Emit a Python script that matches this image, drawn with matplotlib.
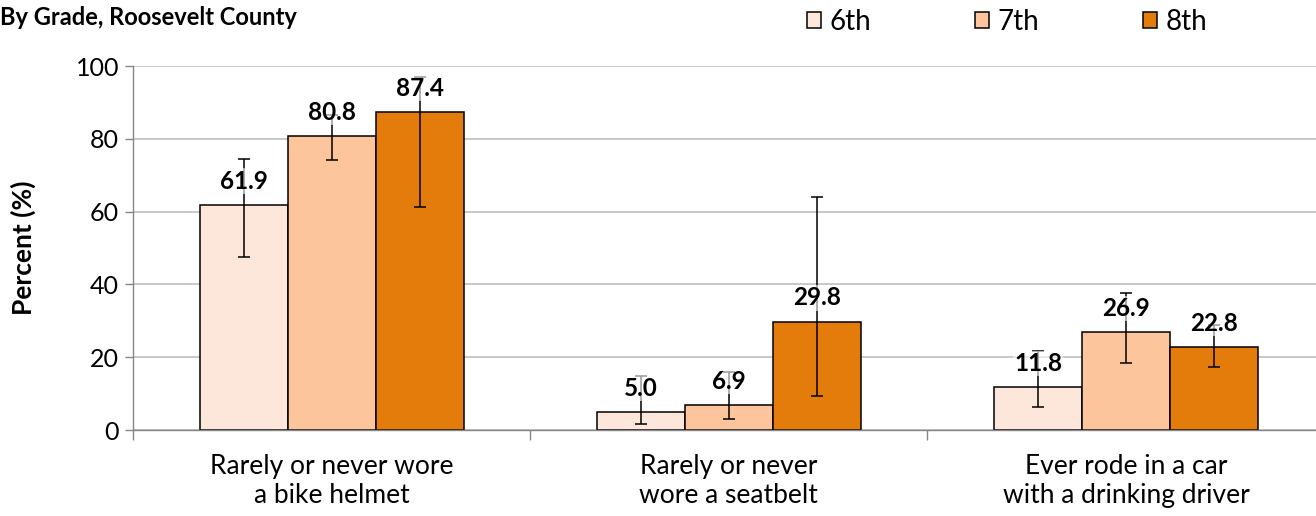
import matplotlib
matplotlib.use("Agg")
import matplotlib.pyplot as plt
import numpy as np

plt.rcParams['font.family'] = ['Lato', 'DejaVu Sans']

categories = ["Rarely or never wore\na bike helmet",
              "Rarely or never\nwore a seatbelt",
              "Ever rode in a car\nwith a drinking driver"]
grades = ["6th", "7th", "8th"]
values = {
    "6th": [61.9, 5.0, 11.8],
    "7th": [80.8, 6.9, 26.9],
    "8th": [87.4, 29.8, 22.8],
}
ci_low = {
    "6th": [47.6, 1.7, 6.2],
    "7th": [74.3, 3.0, 18.3],
    "8th": [61.2, 9.3, 17.4],
}
ci_high = {
    "6th": [74.5, 14.9, 21.8],
    "7th": [86.5, 15.9, 37.7],
    "8th": [96.9, 64.0, 28.8],
}
colors = {"6th": "#FDE7DA", "7th": "#FCC59B", "8th": "#E37C0B"}
yticks = [0, 20, 40, 60, 80, 100]

fig = plt.figure(figsize=(13.16, 5.16), dpi=100)
ax = fig.add_axes([133/1316, 86/516, (1324.5-133)/1316, 364/516])

x = np.arange(len(categories))
width = 0.2215
for i, g in enumerate(grades):
    pos = x + (i - 1) * width
    v = np.array(values[g])
    lo = v - np.array(ci_low[g])
    hi = np.array(ci_high[g]) - v
    ax.bar(pos, v, width, color=colors[g], edgecolor="black", linewidth=1.1,
           label=g, zorder=2)
    ax.errorbar(pos, v, yerr=[lo, hi], fmt="none", ecolor="black",
                elinewidth=1.1, capsize=4, capthick=1.1, zorder=3)
    for xp, val in zip(pos, v):
        ax.annotate(f"{val:.1f}", (xp, val), xytext=(0, 17),
                    textcoords="offset points", ha="center", va="center",
                    fontsize=17.5, fontweight="bold", zorder=4,
                    bbox=dict(boxstyle="square,pad=0.05", facecolor="white",
                              edgecolor="none", alpha=0.6))

ax.set_xlim(-0.5, 2.5)
ax.set_ylim(0, 100)
ax.set_yticks(yticks)
ax.tick_params(axis="y", labelsize=18, length=6, color="#868686", width=1, pad=4)
ax.yaxis.grid(True, color="#BFBFBF", linewidth=1.2, zorder=0)
ax.set_axisbelow(True)

ax.set_xticks(x)
ax.set_xticklabels(categories, fontsize=19, linespacing=1.2)
ax.tick_params(axis="x", which="major", length=0, pad=17)
ax.set_xticks([-0.5, 0.5, 1.5, 2.5], minor=True)
ax.tick_params(axis="x", which="minor", length=7, color="#868686", width=1)

for s in ["top", "right"]:
    ax.spines[s].set_visible(False)
for s in ["left", "bottom"]:
    ax.spines[s].set_color("#868686")
    ax.spines[s].set_linewidth(1)

ax.set_ylabel("Percent (%)", fontsize=19, fontweight="bold")
ax.yaxis.set_label_coords((36 - 133) / 1191.5, 0.5)

fig.text(0.0, 1 - 17/516, "By Grade, Roosevelt County", fontsize=17,
         fontweight="bold", ha="left", va="center")

fig.legend(loc="center left", bbox_to_anchor=(807/1316, 1 - 22/516), ncol=3,
           frameon=False, fontsize=20, handlelength=0.5, handleheight=0.5,
           handletextpad=0.3, columnspacing=3.75, borderaxespad=0, borderpad=0)

fig.savefig("out.png", dpi=100)
